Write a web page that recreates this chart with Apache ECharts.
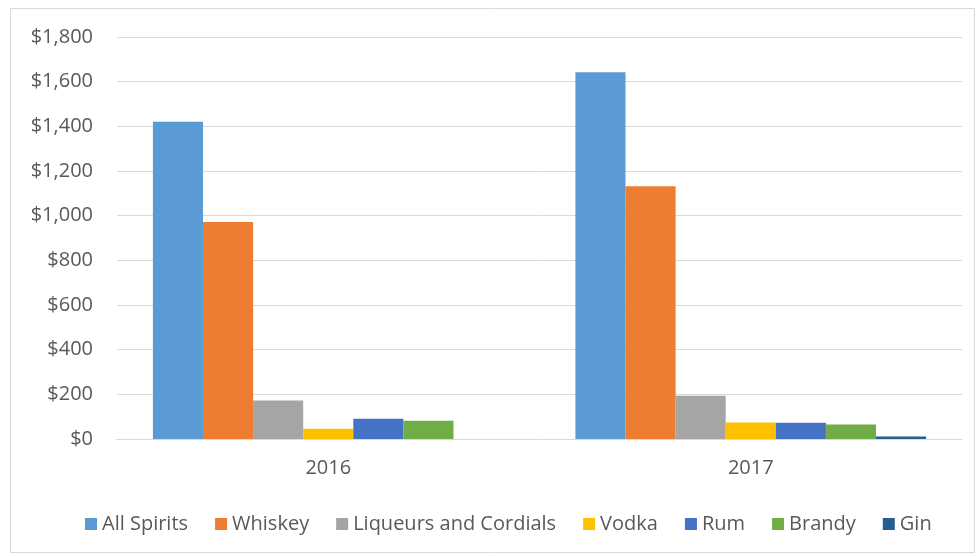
<!DOCTYPE html>
<html><head><meta charset="utf-8">
<script src="https://cdn.jsdelivr.net/npm/echarts@6/dist/echarts.min.js"></script>
<style>html,body{margin:0;padding:0;background:#fff}#c{width:980px;height:556px}</style>
</head><body><div id="c"></div>
<script>
const categories = ['2016', '2017'];
const seriesNames = ['All Spirits', 'Whiskey', 'Liqueurs and Cordials', 'Vodka', 'Rum', 'Brandy', 'Gin'];
const allSpirits = [1420, 1642];
const whiskey = [972, 1132];
const liqueurs = [172, 194];
const vodka = [46, 74];
const rum = [91, 73];
const brandy = [82, 65];
const gin = [0, 11];
const yTicks = [0, 200, 400, 600, 800, 1000, 1200, 1400, 1600, 1800];
const colors = ['#5B9BD5', '#ED7D31', '#A5A5A5', '#FFC000', '#4472C4', '#70AD47', '#255E91'];
const values = [allSpirits, whiskey, liqueurs, vodka, rum, brandy, gin];

const chart = echarts.init(document.getElementById('c'));
chart.setOption({
  animation: false,
  color: colors,
  textStyle: {fontFamily: 'Open Sans'},
  graphic: [{type: 'rect', shape: {x: 10.5, y: 8.5, width: 964, height: 544}, style: {fill: 'none', stroke: '#d9d9d9', lineWidth: 1}, silent: true}],
  grid: {left: 117, right: 18, top: 37, bottom: 117},
  legend: {
    bottom: 17, left: 80, itemWidth: 12, itemHeight: 12, itemGap: 27, icon: 'rect',
    textStyle: {color: '#595959', fontSize: 20, fontFamily: 'Open Sans', padding: [0, 0, 0, 0]},
    data: seriesNames
  },
  xAxis: {
    type: 'category', data: categories,
    axisLine: {lineStyle: {color: '#d9d9d9'}},
    axisTick: {show: false},
    axisLabel: {color: '#595959', fontSize: 20, margin: 19}
  },
  yAxis: {
    type: 'value', min: yTicks[0], max: yTicks[yTicks.length - 1], interval: 200,
    axisLine: {show: false}, axisTick: {show: false},
    splitLine: {lineStyle: {color: '#d9d9d9'}},
    axisLabel: {color: '#595959', fontSize: 20, margin: 24, formatter: v => '$' + v.toLocaleString('en-US')}
  },
  series: seriesNames.map((n, i) => ({
    name: n, type: 'bar', data: values[i], barGap: '0%', barCategoryGap: '17%',
    itemStyle: {color: colors[i]}
  }))
});
</script></body></html>
